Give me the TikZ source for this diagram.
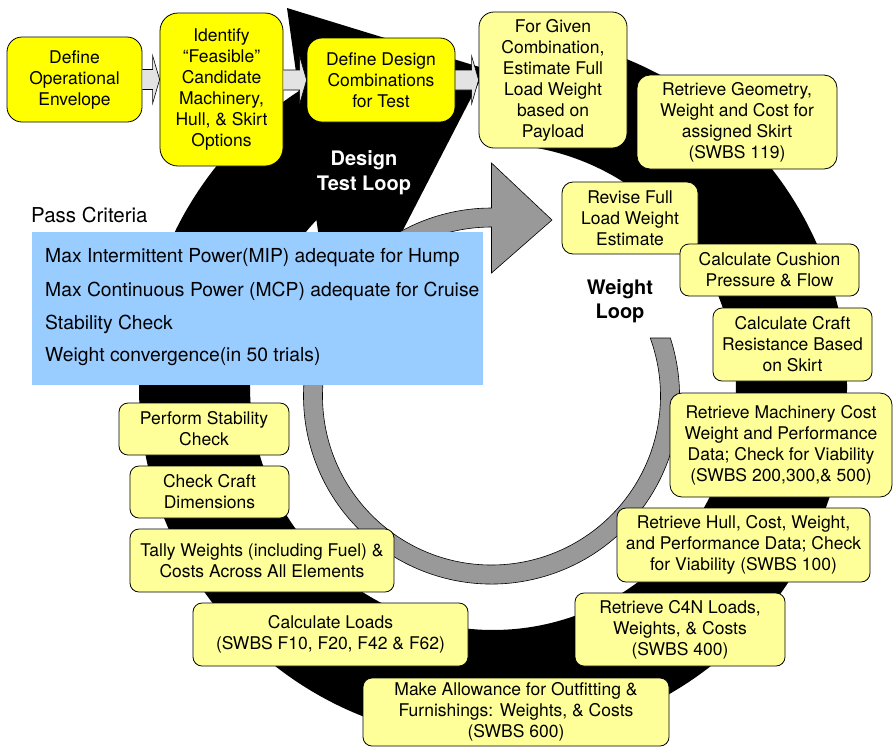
\documentclass[tikz,border=0pt]{standalone}
\usepackage{fontspec}
\setmainfont{TeX Gyre Heros}
\usetikzlibrary{calc}
\definecolor{ly}{HTML}{FFFF99}
\definecolor{by}{HTML}{FFFF00}
\definecolor{lb}{HTML}{99CCFF}
\definecolor{rg}{HTML}{999999}
\definecolor{ag}{HTML}{E3E3E3}
\tikzset{
  box/.style={draw=black, line width=0.8pt, fill=ly, rounded corners=9pt, align=center,
    inner sep=0pt, font=\fontsize{17.5}{21}\selectfont},
  ybox/.style={box, fill=by, rounded corners=15pt},
  arrowfill/.style={fill=ag},
  arrowline/.style={draw=black, line width=0.6pt},
  crittext/.style={anchor=west, inner sep=0pt, font=\fontsize{19.3}{23}\selectfont},
  looplabel/.style={align=center, inner sep=0pt, font=\bfseries\fontsize{20}{24.5}\selectfont}
}
\begin{document}
\begin{tikzpicture}[x=1pt,y=-1pt]
\useasboundingbox (0,0) rectangle (893,748);

% black design test loop ring
\begin{scope}[shift={(493,387)}]
\fill[black] (-88:354) arc[start angle=-88, end angle=236.7, radius=354]
  -- (-206,-379) -- (-7,-318) -- (-157,-27) -- (223.4:243)
  arc[start angle=223.4, end angle=-88, radius=243] -- cycle;
\end{scope}

% grey weight loop ring
\begin{scope}[shift={(491.5,396)}]
\filldraw[fill=rg, draw=black, line width=0.6pt]
  (-17.97:188) arc[start angle=-17.97, end angle=270, radius=188]
  -- (0,-233) -- (60.5,-176) -- (0,-123) -- (270:169)
  arc[start angle=270, end angle=-20.07, radius=169] -- cycle;
\end{scope}

% pass criteria
\node[anchor=west, inner sep=0pt, font=\fontsize{20.5}{24}\selectfont] (pc) at (31,215) {Pass Criteria};
\node[fill=lb, anchor=north west, minimum width=451pt, minimum height=153pt, inner sep=0pt] (crit) at (32,232) {};
\node[crittext] (c1) at (45,258) {Max Intermittent Power(MIP) adequate for Hump};
\node[crittext] (c2) at (45,291) {Max Continuous Power (MCP) adequate for Cruise};
\node[crittext] (c3) at (45,324) {Stability Check};
\node[crittext] (c4) at (45,357) {Weight convergence(in 50 trials)};

% loop labels
\node[looplabel, text=white] (dtl) at (364,172.5) {Design\\Test Loop};
\node[looplabel, text=black] (wl) at (620,301) {Weight\\Loop};

% boxes
\node[ybox, minimum width=135pt, minimum height=85pt] (b1) at (74.5,79.5) {Define\\Operational\\Envelope};
\node[ybox, minimum width=123pt, minimum height=153pt, rounded corners=18pt] (b2) at (221.5,89.5) {Identify\\“Feasible”\\Candidate\\Machinery,\\Hull, \& Skirt\\Options};
\node[ybox, minimum width=148pt, minimum height=84pt] (b3) at (381,80) {Define Design\\Combinations\\for Test};
\node[box, minimum width=148pt, minimum height=136pt, rounded corners=15pt] (b4) at (553,80) {For Given\\Combination,\\Estimate Full\\Load Weight\\based on\\Payload};

% block arrows between the top boxes
\foreach \s/\e/\yref in {b1/b2/b1, b2/b3/b3, b3/b4/b3}{
  \fill[arrowfill] let \p1=(\s.east), \p2=(\e.west), \p3=(\yref.center) in
    (\x1,\y3+10pt) -- (\x2-7pt,\y3+10pt) -- (\x2-7pt,\y3+24pt) -- (\x2,\y3)
    -- (\x2-7pt,\y3-24pt) -- (\x2-7pt,\y3-10pt) -- (\x1,\y3-10pt) -- cycle;
  \draw[arrowline] let \p1=(\s.east), \p2=(\e.west), \p3=(\yref.center) in
    (\x1,\y3+10pt) -- (\x2-7pt,\y3+10pt) -- (\x2-7pt,\y3+24pt) -- (\x2,\y3)
    -- (\x2-7pt,\y3-24pt) -- (\x2-7pt,\y3-10pt) -- (\x1,\y3-10pt);
}

\node[box, minimum width=200pt, minimum height=94pt, rounded corners=13pt] (b5) at (737,122) {Retrieve Geometry,\\Weight and Cost for\\assigned Skirt\\(SWBS 119)};
\node[box, minimum width=136pt, minimum height=72pt, rounded corners=11pt] (b6) at (630,218) {Revise Full\\Load Weight\\Estimate};
\node[box, minimum width=179pt, minimum height=52pt] (b7) at (769.5,270) {Calculate Cushion\\Pressure \& Flow};
\node[box, minimum width=159pt, minimum height=73pt] (b8) at (792.5,344.5) {Calculate Craft\\Resistance Based\\on Skirt};
\node[box, minimum width=222pt, minimum height=104pt, rounded corners=12pt] (b9) at (781,445) {Retrieve Machinery Cost\\Weight and Performance\\Data; Check for Viability\\(SWBS 200,300,\& 500)};
\node[box, minimum width=253pt, minimum height=74pt] (b10) at (743.5,545) {Retrieve Hull, Cost, Weight,\\and Performance Data; Check\\for Viability (SWBS 100)};
\node[box, minimum width=210pt, minimum height=73pt] (b11) at (680,629.5) {Retrieve C4N Loads,\\Weights, \& Costs\\(SWBS 400)};
\node[box, minimum width=306pt, minimum height=68pt] (b12) at (516,712) {Make Allowance for Outfitting \&\\Furnishings: Weights, \& Costs\\(SWBS 600)};
\node[box, minimum width=275pt, minimum height=63pt] (b13) at (330.5,634.5) {Calculate Loads\\(SWBS F10, F20, F42 \& F62)};
\node[box, minimum width=264pt, minimum height=63pt] (b14) at (262,560.5) {Tally Weights (including Fuel) \&\\Costs Across All Elements};
\node[box, minimum width=159pt, minimum height=52pt] (b15) at (209.5,492) {Check Craft\\Dimensions};
\node[box, minimum width=170pt, minimum height=52pt] (b16) at (204,429) {Perform Stability\\Check};
\end{tikzpicture}
\end{document}
